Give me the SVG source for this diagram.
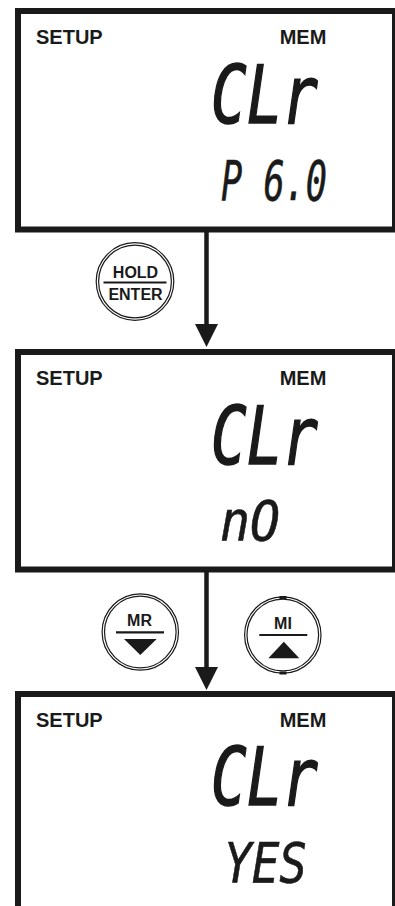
<svg xmlns="http://www.w3.org/2000/svg" width="395" height="906" viewBox="0 0 395 906">
  <style>
    .box { fill: #ffffff; stroke: #1a1a1a; stroke-width: 6; }
    .lbl { font-family: "Liberation Sans", Arial, sans-serif; font-weight: bold; font-size: 20px; fill: #1a1a1a; }
    .lcd { font-family: "DejaVu Sans Mono", monospace; font-style: oblique; fill: #1a1a1a; }
    .big { font-size: 80px; stroke: #1a1a1a; stroke-width: 1.6; }
    .small { font-size: 56px; stroke: #1a1a1a; stroke-width: 0.6; }
    .ring { fill: #ffffff; stroke: #1a1a1a; stroke-width: 1.2; }
    .ringin { fill: none; stroke: #1a1a1a; stroke-width: 1.2; }
    .key { font-family: "Liberation Sans", Arial, sans-serif; font-weight: bold; font-size: 16px; fill: #1a1a1a; text-anchor: middle; }
    .bar { stroke: #1a1a1a; stroke-width: 2.2; }
    .conn { stroke: #1a1a1a; stroke-width: 4.5; fill: none; }
  </style>
  <defs>
    <marker id="arrow" viewBox="0 0 23 23" refX="16" refY="11.5" markerWidth="23" markerHeight="23" markerUnits="userSpaceOnUse" orient="auto">
      <path d="M0,0 L23,11.5 L0,23 Z" fill="#1a1a1a"/>
    </marker>
  </defs>
  <rect width="395" height="906" fill="#ffffff"/>

  <g id="screen1">
    <rect class="box" x="18" y="11" width="377" height="218.5"/>
    <text class="lbl" x="36" y="44">SETUP</text>
    <text class="lbl" x="303" y="44" text-anchor="middle">MEM</text>
    <text class="lcd big" x="211" y="123" textLength="107" lengthAdjust="spacingAndGlyphs">CLr</text>
    <text class="lcd small" x="221" y="200" textLength="106" lengthAdjust="spacingAndGlyphs">P 6.0</text>
  </g>

  <g id="screen2">
    <rect class="box" x="18" y="352" width="377" height="217.5"/>
    <text class="lbl" x="36" y="385">SETUP</text>
    <text class="lbl" x="303" y="385" text-anchor="middle">MEM</text>
    <text class="lcd big" x="211" y="464" textLength="107" lengthAdjust="spacingAndGlyphs">CLr</text>
    <text class="lcd small" x="220" y="540" textLength="60" lengthAdjust="spacingAndGlyphs">nO</text>
  </g>

  <g id="screen3">
    <rect class="box" x="18" y="694" width="377" height="300"/>
    <text class="lbl" x="36" y="727">SETUP</text>
    <text class="lbl" x="303" y="727" text-anchor="middle">MEM</text>
    <text class="lcd big" x="211" y="805" textLength="107" lengthAdjust="spacingAndGlyphs">CLr</text>
    <text class="lcd small" x="224" y="882" textLength="83" lengthAdjust="spacingAndGlyphs">YES</text>
  </g>

  <g id="connectors">
    <line class="conn" x1="206.5" y1="232" x2="206.5" y2="340" marker-end="url(#arrow)"/>
    <line class="conn" x1="206.5" y1="572" x2="206.5" y2="683" marker-end="url(#arrow)"/>
  </g>

  <g id="key-hold-enter">
    <circle class="ring" cx="135" cy="281.5" r="38.8"/>
    <circle class="ringin" cx="135" cy="281.5" r="36.4"/>
    <text class="key" x="135.5" y="277.5">HOLD</text>
    <line class="bar" x1="103.5" y1="282.5" x2="166.5" y2="282.5"/>
    <text class="key" x="135.5" y="299.5">ENTER</text>
  </g>

  <g id="key-mr">
    <circle class="ring" cx="140.3" cy="632" r="38.2"/>
    <circle class="ringin" cx="140.3" cy="632" r="35.8"/>
    <text class="key" x="139.5" y="626">MR</text>
    <line class="bar" x1="116" y1="632.3" x2="164" y2="632.3"/>
    <path d="M124,639 L156.7,639 L140.3,655 Z" fill="#1a1a1a"/>
  </g>

  <g id="key-mi">
    <circle class="ring" cx="282.8" cy="635" r="38.2"/>
    <circle class="ringin" cx="282.8" cy="635" r="35.8"/>
    <rect x="279.5" y="596" width="7" height="3" fill="#1a1a1a"/>
    <rect x="279.5" y="671.5" width="7" height="3" fill="#1a1a1a"/>
    <text class="key" x="283" y="629.3">MI</text>
    <line class="bar" x1="259.3" y1="635" x2="307.3" y2="635"/>
    <path d="M268.3,658.3 L299.3,658.3 L283.8,641.7 Z" fill="#1a1a1a"/>
  </g>
</svg>
